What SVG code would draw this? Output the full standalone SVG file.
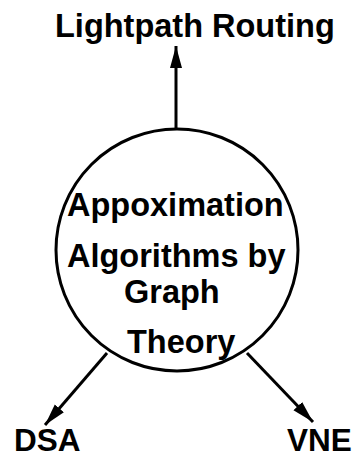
<svg xmlns="http://www.w3.org/2000/svg" width="355" height="458" viewBox="0 0 355 458">
<defs>
<style>
.t{font-family:"Liberation Sans",Arial,sans-serif;font-weight:bold;font-size:32.5px;fill:#000}
.s{font-size:31.5px}
.e{stroke:#000;stroke-width:3;fill:none}
</style>
<marker id="ah" markerWidth="24" markerHeight="14" refX="22" refY="6" orient="auto" markerUnits="userSpaceOnUse">
<path d="M0,0 L22,6 L0,12 Z" fill="#000"/>
</marker>
</defs>
<rect width="355" height="458" fill="#fff"/>
<g id="connectors">
<line class="e" x1="176" y1="129" x2="176" y2="46" marker-end="url(#ah)"/>
<line class="e" x1="107" y1="353" x2="45" y2="425" marker-end="url(#ah)"/>
<line class="e" x1="247" y1="353" x2="313" y2="422" marker-end="url(#ah)"/>
</g>
<g id="center">
<circle class="e" cx="177" cy="250" r="121"/>
<text class="t" x="67" y="216">Appoximation</text>
<text class="t" x="67" y="267">Algorithms by</text>
<text class="t" x="124" y="303">Graph</text>
<text class="t" x="127" y="353">Theory</text>
</g>
<g id="lightpath">
<text class="t" x="55" y="37">Lightpath Routing</text>
</g>
<g id="dsa">
<text class="t s" x="14" y="451">DSA</text>
</g>
<g id="vne">
<text class="t s" x="287" y="451">VNE</text>
</g>
</svg>
